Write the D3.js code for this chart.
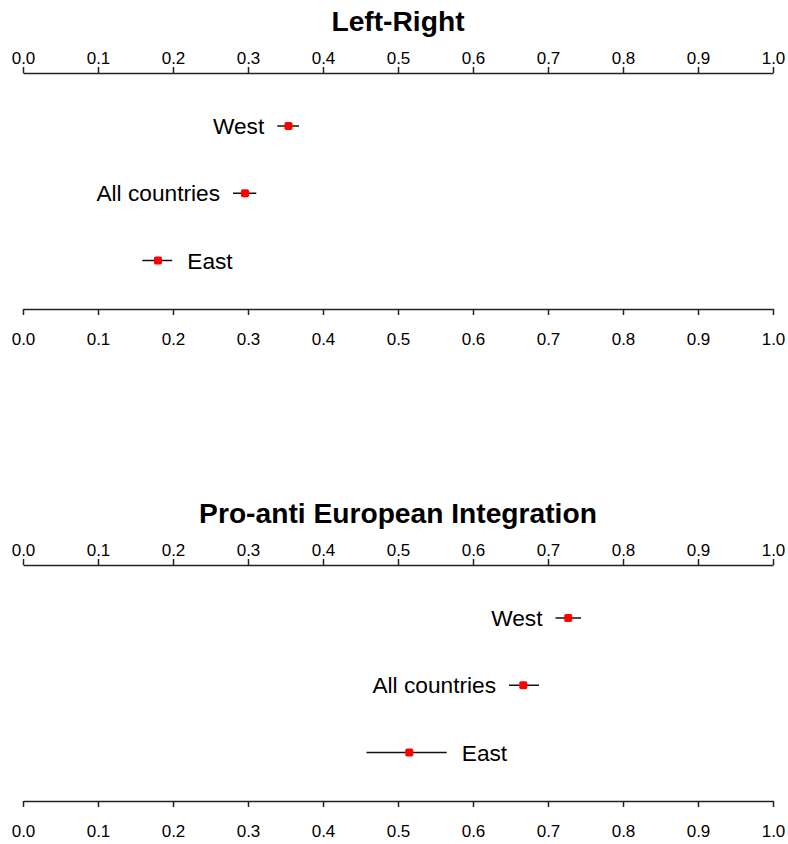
<!DOCTYPE html>
<html>
<head>
<meta charset="utf-8">
<script src="https://cdn.jsdelivr.net/npm/d3@7"></script>
<style>
  html, body { margin: 0; padding: 0; background: #fff; }
  svg { display: block; }
</style>
</head>
<body>
<svg id="chart" width="788" height="844"></svg>
<script>
// ---- data ----
const panelTitles = ["Left-Right", "Pro-anti European Integration"];
const groups = ["West", "All countries", "East"];
const labelSide = ["left", "left", "right"];
const leftRightMean = [0.354, 0.296, 0.180];
const leftRightLow  = [0.339, 0.280, 0.159];
const leftRightHigh = [0.368, 0.311, 0.199];
const euMean = [0.727, 0.667, 0.515];
const euLow  = [0.710, 0.648, 0.458];
const euHigh = [0.744, 0.688, 0.565];
const tickValues = [0, 0.1, 0.2, 0.3, 0.4, 0.5, 0.6, 0.7, 0.8, 0.9, 1.0];

const panels = [
  { title: panelTitles[0], mean: leftRightMean, low: leftRightLow, high: leftRightHigh },
  { title: panelTitles[1], mean: euMean, low: euLow, high: euHigh }
];

// ---- layout ----
const svg = d3.select("#chart");
const font = "Liberation Sans, Arial, Helvetica, sans-serif";
const x = d3.scaleLinear().domain([0, 1]).range([23, 773]);
const panelOffset = 492;
const topAxisY = 73, bottomAxisY = 309, titleY = 31;
const y = d3.scalePoint().domain(groups).range([126, 260.5]);

panels.forEach((p, pi) => {
  const g = svg.append("g").attr("transform", `translate(0,${pi * panelOffset})`);

  g.append("text")
    .attr("x", (x(0) + x(1)) / 2).attr("y", titleY)
    .attr("text-anchor", "middle")
    .attr("font-family", font).attr("font-weight", "bold")
    .attr("font-size", 28.2).attr("fill", "#000")
    .text(p.title);

  const fmt = d3.format(".1f");
  const axT = g.append("g").attr("transform", `translate(0,${topAxisY})`)
    .call(d3.axisTop(x).tickValues(tickValues).tickFormat(fmt).tickSize(6).tickSizeOuter(0).tickPadding(3));
  const axB = g.append("g").attr("transform", `translate(0,${bottomAxisY})`)
    .call(d3.axisBottom(x).tickValues(tickValues).tickFormat(fmt).tickSize(6).tickSizeOuter(0).tickPadding(18));
  [axT, axB].forEach(a => {
    a.attr("font-size", null).attr("font-family", null);
    a.select(".domain").attr("stroke", "#222").attr("stroke-width", 1.5);
    a.selectAll(".tick line").attr("stroke", "#222").attr("stroke-width", 1.5);
    a.selectAll(".tick text")
      .attr("font-family", font)
      .style("font-size", "17px")
      .attr("fill", "#000");
  });

  const rows = groups.map((gname, i) => ({ name: gname, side: labelSide[i], m: p.mean[i], lo: p.low[i], hi: p.high[i] }));

  g.selectAll("line.err").data(rows).join("line")
    .attr("class", "err")
    .attr("x1", d => x(d.lo)).attr("x2", d => x(d.hi))
    .attr("y1", d => y(d.name)).attr("y2", d => y(d.name))
    .attr("stroke", "#111").attr("stroke-width", 1.5);

  g.selectAll("rect.pt").data(rows).join("rect")
    .attr("class", "pt")
    .attr("x", d => x(d.m) - 4).attr("y", d => y(d.name) - 4)
    .attr("width", 8).attr("height", 8).attr("rx", 1.8)
    .attr("fill", "#ff0000");

  g.selectAll("text.lab").data(rows).join("text")
    .attr("class", "lab")
    .attr("x", d => d.side === "left" ? x(d.lo) - 13 : x(d.hi) + 15)
    .attr("y", d => y(d.name))
    .attr("dy", "0.36em")
    .attr("text-anchor", d => d.side === "left" ? "end" : "start")
    .attr("font-family", font).attr("font-size", 22.7).attr("fill", "#000")
    .text(d => d.name);
});
</script>
</body>
</html>
